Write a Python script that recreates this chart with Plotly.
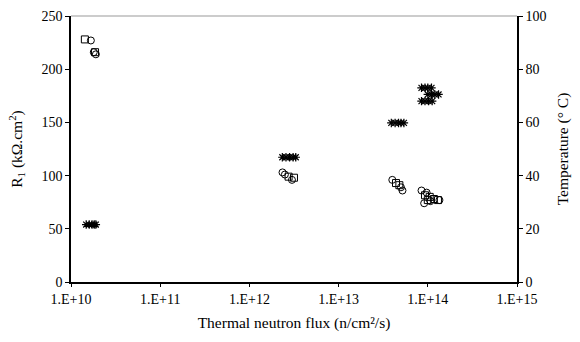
import plotly.graph_objects as go

# R1 (kOhm.cm2) measured values - square markers
sq_flux = [1.43e10, 1.86e10, 2.75e12, 3.16e12, 4.4e13, 4.8e13, 9.3e13, 1.05e14, 1.17e14, 1.3e14, 1.0e14]
sq_r1 = [228, 216, 99, 98, 93, 91, 81.5, 80, 78, 77, 77]

# R1 (kOhm.cm2) measured values - circle markers
ci_flux = [1.67e10, 1.8e10, 1.9e10, 2.35e12, 2.5e12, 3.0e12, 4.0e13, 5.0e13, 5.2e13, 8.5e13, 9.7e13, 9.1e13, 1.35e14, 1.07e14]
ci_r1 = [227, 216, 214, 103, 101, 96, 96, 89, 86, 86, 84, 74, 77, 76]

# Temperature (deg C) - star markers
t_flux = [1.48e10, 1.6e10, 1.72e10, 1.82e10, 1.9e10,
          2.34e12, 2.57e12, 2.82e12, 3.09e12, 3.31e12,
          3.9e13, 4.3e13, 4.7e13, 5.0e13, 5.4e13,
          8.5e13, 9.3e13, 1.0e14, 1.1e14,
          1.0e14, 1.1e14, 1.2e14, 1.32e14,
          8.5e13, 9.3e13, 1.02e14, 1.12e14]
t_temp = [21.6, 21.6, 21.6, 21.6, 21.6,
          46.9, 46.9, 46.9, 46.9, 46.9,
          59.8, 59.8, 59.8, 59.8, 59.8,
          73, 73, 73, 73,
          70.5, 70.5, 70.5, 70.5,
          68, 68, 68, 68]

x_tickvals = [1e10, 1e11, 1e12, 1e13, 1e14, 1e15]
x_ticktext = ["1.E+10", "1.E+11", "1.E+12", "1.E+13", "1.E+14", "1.E+15"]
y_ticks = [0, 50, 100, 150, 200, 250]
y2_ticks = [0, 20, 40, 60, 80, 100]

fam = "Liberation Serif, Times New Roman, serif"
font = dict(family=fam, size=14, color="black")
tfont = dict(family=fam, size=15.5, color="black")

fig = go.Figure()
fig.add_trace(go.Scatter(x=sq_flux, y=sq_r1, mode="markers",
                         marker=dict(symbol="square-open", size=7, color="black", line=dict(width=1, color="black")),
                         showlegend=False))
fig.add_trace(go.Scatter(x=ci_flux, y=ci_r1, mode="markers",
                         marker=dict(symbol="circle-open", size=7, color="black", line=dict(width=1, color="black")),
                         showlegend=False))
fig.add_trace(go.Scatter(x=t_flux, y=t_temp, mode="markers", yaxis="y2",
                         marker=dict(symbol="asterisk-open", size=7, color="black", line=dict(width=1.2, color="black")),
                         showlegend=False))

fig.update_layout(
    width=580, height=342,
    margin=dict(l=71, r=63, t=9, b=60),
    paper_bgcolor="white", plot_bgcolor="white",
    font=font,
    xaxis=dict(type="log", range=[10, 15], tickvals=x_tickvals, ticktext=x_ticktext,
               showgrid=False, zeroline=False, showline=True, linecolor="black", linewidth=1.5,
               ticks="outside", ticklen=3, tickcolor="black", tickfont=font,
               title=dict(text="Thermal neutron flux (n/cm²/s)", standoff=12, font=tfont)),
    yaxis=dict(range=[0, 250], tickvals=y_ticks, showgrid=False, zeroline=False,
               showline=True, linecolor="black", linewidth=1.5, ticks="outside", ticklen=4,
               tickcolor="black", tickfont=font,
               title=dict(text="R<sub>1</sub> (kΩ.cm<sup>2</sup>)", standoff=15, font=tfont)),
    yaxis2=dict(range=[0, 100], tickvals=y2_ticks, overlaying="y", side="right",
                showgrid=False, zeroline=False, showline=True, linecolor="black", linewidth=1.5,
                ticks="outside", ticklen=4, tickcolor="black", tickfont=font,
                title=dict(text="Temperature (° C)", standoff=12, font=tfont)),
    shapes=[dict(type="line", xref="paper", yref="paper", x0=0, x1=1, y0=1, y1=1,
                 line=dict(color="#bbbbbb", width=1.5))],
)

fig.write_html("out.html")
